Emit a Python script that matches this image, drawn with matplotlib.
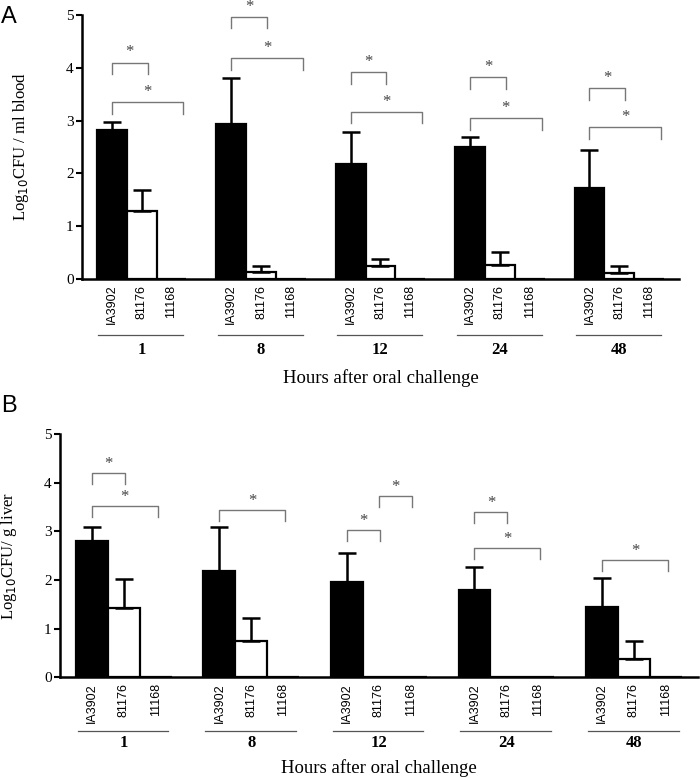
import matplotlib
matplotlib.use("Agg")
import matplotlib.pyplot as plt
from matplotlib.transforms import blended_transform_factory

# hours after oral challenge (groups) and strains (bars within a group)
hours = ["1", "8", "12", "24", "48"]
strains = ["IA3902", "81176", "11168"]

# panel A: log10 CFU / ml blood
blood_ia3902 = [2.82, 2.94, 2.17, 2.50, 1.72]
blood_ia3902_err = [0.16, 0.86, 0.62, 0.18, 0.72]
blood_81176 = [1.29, 0.13, 0.25, 0.26, 0.12]
blood_81176_err = [0.40, 0.12, 0.13, 0.26, 0.13]
blood_11168 = [0, 0, 0, 0, 0]
# significance brackets: (group, bar a, bar b, bracket top)
blood_sig = [(0, 0, 1, 4.10), (0, 0, 2, 3.35), (1, 0, 1, 4.97), (1, 0, 2, 4.18),
             (2, 0, 1, 3.92), (2, 0, 2, 3.17), (3, 0, 1, 3.82), (3, 0, 2, 3.05),
             (4, 0, 1, 3.61), (4, 0, 2, 2.87)]

# panel B: log10 CFU / g liver
liver_ia3902 = [2.81, 2.18, 1.96, 1.79, 1.44]
liver_ia3902_err = [0.27, 0.90, 0.59, 0.48, 0.61]
liver_81176 = [1.43, 0.75, 0, 0, 0.37]
liver_81176_err = [0.60, 0.47, 0, 0, 0.38]
liver_11168 = [0, 0, 0, 0, 0]
liver_sig = [(0, 0, 1, 4.20), (0, 0, 2, 3.52), (1, 0, 2, 3.44), (2, 0, 1, 3.02),
             (2, 1, 2, 3.72), (3, 0, 1, 3.40), (3, 0, 2, 2.65), (4, 0, 2, 2.41)]

SERIF = "Liberation Serif"
SANS = "Liberation Sans"


def draw_panel(ax, series, errs, sig, ylabel, stretch, under_y, num_y, xlab_y):
    n = len(hours)
    for s, (vals, err) in enumerate(zip(series, errs)):
        xs = [4 * g + s for g in range(n)]
        face = "black" if s == 0 else "white"
        ax.bar(xs, vals, width=1.0, color=face, edgecolor="black", linewidth=1.6, zorder=2)
        if err is None:
            continue
        for x, v, e in zip(xs, vals, err):
            if v <= 0:
                continue
            ax.errorbar([x], [v], yerr=[[0], [e]], fmt="none", ecolor="black",
                        elinewidth=1.8, capsize=6.5, capthick=1.8, zorder=3)

    # significance brackets
    leg = 0.22
    for g, a, b, top in sig:
        x0 = 4 * g + a
        x1 = 4 * g + b + stretch * (b - a)
        ax.plot([x0, x0, x1, x1], [top - leg, top, top, top - leg], color="#777777",
                linewidth=1.0, clip_on=False, zorder=1)
        ax.text((x0 + x1) / 2, top + 0.19, "*", ha="center", va="center",
                fontsize=12, color="#444444", family=SERIF, clip_on=False)

    ax.set_xlim(-1, 19)
    ax.set_ylim(0, 5)
    ax.set_yticks(range(6))
    ax.set_yticklabels([str(v) for v in range(6)], family=SERIF, fontsize=11)
    ticks = [4 * g + s for g in range(n) for s in range(3)]
    ax.set_xticks(ticks)
    ax.set_xticklabels(strains * n, rotation=90, family=SANS, fontsize=9)
    ax.tick_params(axis="x", length=0, pad=4)
    ax.tick_params(axis="y", length=4, width=1.5, direction="out", pad=2)
    for side in ("top", "right"):
        ax.spines[side].set_visible(False)
    for side in ("left", "bottom"):
        ax.spines[side].set_linewidth(1.8)

    trans = blended_transform_factory(ax.transData, ax.transAxes)
    for g, h in enumerate(hours):
        ax.plot([4 * g - 0.45, 4 * g + 2.4], [under_y, under_y], color="#555555",
                linewidth=0.9, transform=trans, clip_on=False)
        ax.text(4 * g + 1, num_y, h, transform=trans, ha="center", va="center",
                family=SERIF, fontsize=12, fontweight="bold")
    ax.text(0.5, xlab_y, "Hours after oral challenge", transform=ax.transAxes,
            ha="center", va="center", family=SERIF, fontsize=13.5)
    ax.set_ylabel(ylabel, family=SERIF, fontsize=12)


fig = plt.figure(figsize=(7.0, 7.78), dpi=100)
ax_a = fig.add_axes([0.117, 0.6414, 0.853, 0.3393])
ax_b = fig.add_axes([0.0857, 0.1294, 0.911, 0.3128])

draw_panel(ax_a, [blood_ia3902, blood_81176, blood_11168],
           [blood_ia3902_err, blood_81176_err, None], blood_sig,
           "Log$_{10}$CFU / ml blood", 0.2, -0.212, -0.269, -0.375)
draw_panel(ax_b, [liver_ia3902, liver_81176, liver_11168],
           [liver_ia3902_err, liver_81176_err, None], liver_sig,
           "Log$_{10}$CFU/ g liver", 0.03, -0.219, -0.269, -0.373)

ax_a.yaxis.set_label_coords(-0.085, 0.5)
ax_b.yaxis.set_label_coords(-0.065, 0.5)

fig.text(0.002, 0.992, "A", family=SANS, fontsize=17, va="top", ha="left")
fig.text(0.002, 0.492, "B", family=SANS, fontsize=17, va="top", ha="left")

fig.savefig("out.png", dpi=100)
